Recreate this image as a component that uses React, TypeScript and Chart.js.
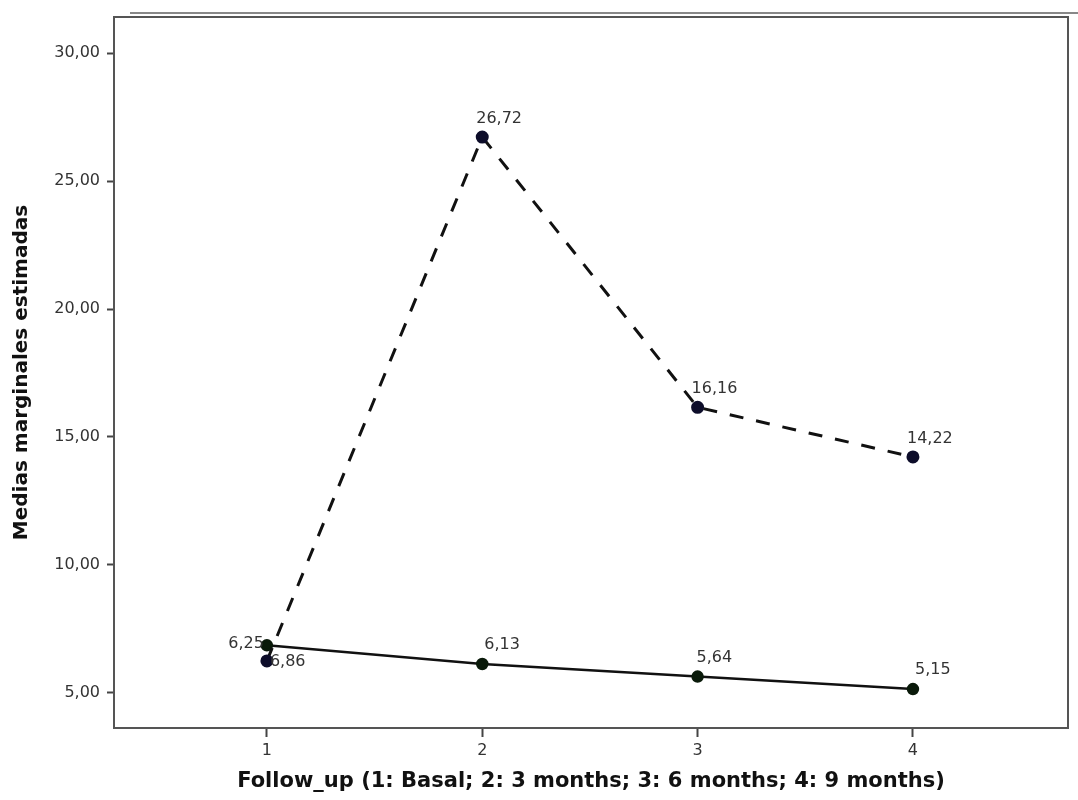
import React, { useEffect, useRef } from "react";
import { Chart, registerables } from "chart.js";

Chart.register(...registerables);

const followUp = [1, 2, 3, 4];
const dashedSeries = [6.25, 26.72, 16.16, 14.22];
const solidSeries = [6.86, 6.13, 5.64, 5.15];
const yTickValues = [5, 10, 15, 20, 25, 30];
const xTickValues = [1, 2, 3, 4];
const yTitle = "Medias marginales estimadas";
const xTitle = "Follow_up (1: Basal; 2: 3 months; 3: 6 months; 4: 9 months)";

const fmt = (v: number) => v.toFixed(2).replace(".", ",");
const FONT = "'DejaVu Sans', Verdana, sans-serif";

// label offsets (style only): [dx, dy, align]
const dashedLabelPos: [number, number, CanvasTextAlign][] = [
  [-3, -17, "right"],
  [-6, -18, "left"],
  [-6, -18, "left"],
  [-6, -18, "left"],
];
const solidLabelPos: [number, number, CanvasTextAlign][] = [
  [3, 17, "left"],
  [2, -19, "left"],
  [-1, -19, "left"],
  [2, -19, "left"],
];

const framePlugin = {
  id: "frame",
  afterDraw(chart: any) {
    const { ctx, chartArea } = chart;
    const { left, right, top, bottom } = chartArea;
    ctx.save();
    ctx.strokeStyle = "#555";
    ctx.lineWidth = 2;
    ctx.strokeRect(left, top, right - left, bottom - top);
    ctx.strokeStyle = "#888";
    ctx.lineWidth = 2;
    ctx.beginPath();
    ctx.moveTo(130, 13);
    ctx.lineTo(1078, 13);
    ctx.stroke();

    // titles
    ctx.fillStyle = "#111";
    ctx.textAlign = "center";
    ctx.textBaseline = "middle";
    ctx.font = `bold 21px ${FONT}`;
    ctx.fillText(xTitle, (left + right) / 2, 782);
    ctx.font = `bold 20px ${FONT}`;
    ctx.save();
    ctx.translate(22, (top + bottom) / 2);
    ctx.rotate(-Math.PI / 2);
    ctx.fillText(yTitle, 0, 0);
    ctx.restore();

    // data labels
    ctx.font = `16px ${FONT}`;
    ctx.fillStyle = "#333";
    ctx.textBaseline = "middle";
    const sets = [
      { idx: 0, data: dashedSeries, pos: dashedLabelPos },
      { idx: 1, data: solidSeries, pos: solidLabelPos },
    ];
    sets.forEach((s) => {
      const meta = chart.getDatasetMeta(s.idx);
      meta.data.forEach((pt: any, i: number) => {
        const [dx, dy, al] = s.pos[i];
        ctx.textAlign = al;
        ctx.fillText(fmt(s.data[i]), pt.x + dx, pt.y + dy);
      });
    });
    ctx.restore();
  },
};

export default function App() {
  const ref = useRef<HTMLCanvasElement | null>(null);
  useEffect(() => {
    if (!ref.current) return;
    const chart = new Chart(ref.current, {
      type: "line",
      data: {
        datasets: [
          {
            label: "dashed",
            data: followUp.map((x, i) => ({ x, y: dashedSeries[i] })),
            borderColor: "#111",
            borderWidth: 3,
            borderDash: [14, 13],
            pointRadius: 5,
            pointBackgroundColor: "#0d0d2a",
            pointBorderColor: "#0d0d2a",
            tension: 0,
          },
          {
            label: "solid",
            data: followUp.map((x, i) => ({ x, y: solidSeries[i] })),
            borderColor: "#111",
            borderWidth: 2.5,
            pointRadius: 5,
            pointBackgroundColor: "#0a1a0a",
            pointBorderColor: "#0a1a0a",
            tension: 0,
          },
        ],
      },
      options: {
        animation: false,
        responsive: false,
        maintainAspectRatio: false,
        layout: { padding: { top: 17, right: 10, left: 0, bottom: 0 } },
        plugins: { legend: { display: false }, tooltip: { enabled: false } },
        scales: {
          x: {
            type: "linear",
            min: 0.29,
            max: 4.72,
            afterBuildTicks: (s: any) => {
              s.ticks = xTickValues.map((v) => ({ value: v }));
            },
            afterFit: (s: any) => {
              s.height = 72;
            },
            border: { display: false },
            grid: {
              drawOnChartArea: false,
              tickLength: 9,
              tickWidth: 2,
              tickColor: "#444",
            },
            ticks: {
              padding: 4,
              color: "#333",
              font: { family: FONT, size: 16 },
              callback: (v: any) => String(v),
            },
          },
          y: {
            type: "linear",
            min: 3.63,
            max: 31.41,
            afterBuildTicks: (s: any) => {
              s.ticks = yTickValues.map((v) => ({ value: v }));
            },
            afterFit: (s: any) => {
              s.width = 114;
            },
            border: { display: false },
            grid: {
              drawOnChartArea: false,
              tickLength: 7,
              tickWidth: 2,
              tickColor: "#444",
            },
            ticks: {
              padding: 7,
              color: "#333",
              font: { family: FONT, size: 16 },
              callback: (v: any) => fmt(Number(v)),
            },
          },
        },
      },
      plugins: [framePlugin],
    } as any);
    return () => chart.destroy();
  }, []);
  return (
    <div style={{ position: "absolute", left: 0, top: 0, width: 1078, height: 800, background: "#fff" }}>
      <canvas ref={ref} width={1078} height={800} style={{ width: 1078, height: 800 }} />
    </div>
  );
}
